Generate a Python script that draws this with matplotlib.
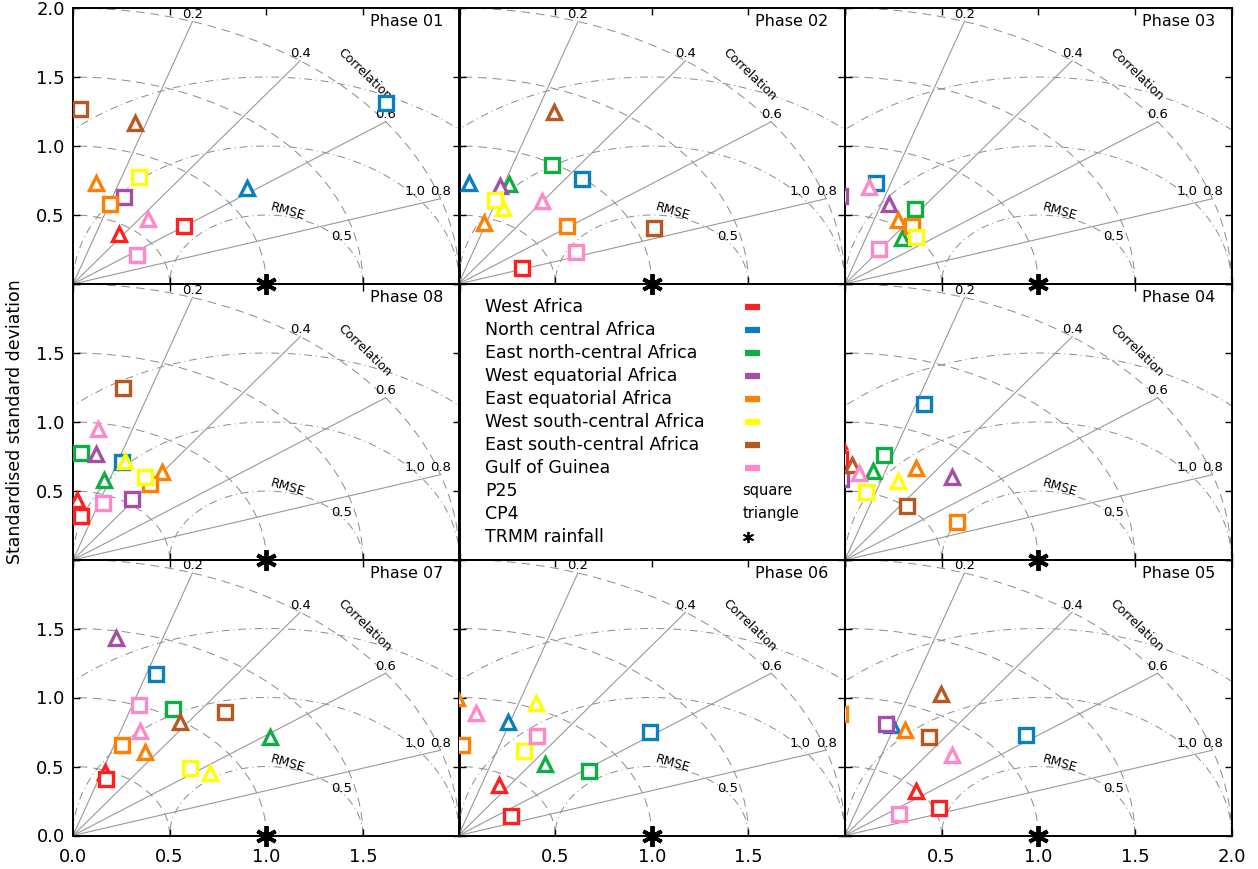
import numpy as np
import matplotlib
matplotlib.use("Agg")
import matplotlib.pyplot as plt

# Regions (one colour each), same order in every data row below
regions = ["West Africa", "North central Africa", "East north-central Africa",
           "West equatorial Africa", "East equatorial Africa",
           "West south-central Africa", "East south-central Africa",
           "Gulf of Guinea"]
region_colors = ["#ff1f1f", "#0a7fc0", "#10ad45", "#a64ea6",
                 "#ff7f00", "#ffff00", "#b8571f", "#ff88c8"]

phases = ["01", "02", "03", "04", "05", "06", "07", "08"]
nan = np.nan

# P25 (squares): x / y position on the diagram, one row per phase
p25_x = [
    [0.573, 1.618, nan, 0.263, 0.193, 0.342, 0.035, 0.332],
    [0.331, 0.641, 0.486, nan, 0.564, 0.190, 1.010, 0.607],
    [nan, 0.161, 0.363, -0.025, 0.349, 0.368, nan, 0.178],
    [-0.025, 0.411, 0.202, -0.022, 0.579, 0.107, 0.320, nan],
    [0.487, 0.938, nan, 0.211, -0.025, nan, 0.435, 0.282],
    [0.271, 0.990, 0.674, nan, 0.018, 0.337, nan, 0.406],
    [0.171, 0.432, 0.515, nan, 0.252, 0.604, 0.784, 0.342],
    [0.043, 0.254, 0.040, 0.304, 0.396, 0.375, 0.257, 0.154],
]
p25_y = [
    [0.423, 1.309, nan, 0.633, 0.580, 0.775, 1.268, 0.210],
    [0.118, 0.758, 0.860, nan, 0.423, 0.609, 0.403, 0.234],
    [nan, 0.734, 0.543, 0.638, 0.420, 0.343, nan, 0.251],
    [0.730, 1.133, 0.763, 0.590, 0.275, 0.493, 0.391, nan],
    [0.199, 0.725, nan, 0.809, 0.877, nan, 0.712, 0.156],
    [0.144, 0.749, 0.470, nan, 0.656, 0.615, nan, 0.720],
    [0.407, 1.169, 0.915, nan, 0.654, 0.487, 0.893, 0.947],
    [0.316, 0.710, 0.775, 0.444, 0.548, 0.601, 1.246, 0.415],
]

# CP4 (triangles)
cp4_x = [
    [0.240, 0.902, nan, nan, 0.117, nan, 0.321, 0.387],
    [nan, 0.052, 0.262, 0.216, 0.134, 0.228, 0.493, 0.434],
    [nan, nan, 0.294, 0.230, 0.273, nan, nan, 0.124],
    [-0.030, nan, 0.147, 0.553, 0.366, 0.276, 0.038, 0.074],
    [0.366, 0.245, nan, nan, 0.311, nan, 0.497, 0.553],
    [0.212, 0.254, 0.449, nan, -0.010, 0.402, nan, 0.089],
    [0.164, nan, 1.019, 0.223, 0.370, 0.708, 0.556, 0.349],
    [0.019, nan, 0.162, 0.119, 0.459, 0.269, nan, 0.131],
]
cp4_y = [
    [0.360, 0.693, nan, nan, 0.734, nan, 1.164, 0.469],
    [nan, 0.734, 0.722, 0.713, 0.440, 0.553, 1.249, 0.601],
    [nan, nan, 0.336, 0.577, 0.464, nan, nan, 0.705],
    [0.860, nan, 0.643, 0.601, 0.669, 0.575, 0.691, 0.633],
    [0.325, 0.804, nan, nan, 0.768, nan, 1.027, 0.586],
    [0.364, 0.821, 0.521, nan, 1.000, 0.957, nan, 0.889],
    [0.462, nan, 0.712, 1.429, 0.603, 0.455, 0.826, 0.755],
    [0.432, nan, 0.577, 0.771, 0.638, 0.715, nan, 0.952],
]

# TRMM reference point
trmm_x, trmm_y = 1.0, 0.0

std_levels = [0.5, 1.0, 1.5, 2.0]
rmse_levels = [0.5, 1.0, 1.5]
corr_levels = [0.2, 0.4, 0.6, 0.8]

# panel grid: phase shown in each cell, None = legend box
layout = [["01", "02", "03"],
          ["08", None, "04"],
          ["07", "06", "05"]]

W, H = 1258, 869
col_left = [73, 458.5, 845]
row_bottom = [284, 560, 835.5]
pw, ph = 386.5, 276

plt.rcParams["font.family"] = "DejaVu Sans"
fig = plt.figure(figsize=(W / 100, H / 100), dpi=100, facecolor="white")

grid_col = "#8a8a8a"
star_marker = (6, 2, 0)


def draw_grid(ax):
    th = np.linspace(0, np.pi / 2, 200)
    for r in std_levels:
        ax.plot(r * np.cos(th), r * np.sin(th), color=grid_col, lw=0.7,
                ls=(0, (9, 6)), zorder=1)
    ph_ = np.linspace(0, np.pi, 300)
    for r in rmse_levels:
        ax.plot(trmm_x + r * np.cos(ph_), r * np.sin(ph_), color=grid_col,
                lw=0.7, ls=(0, (8, 4, 1, 4)), zorder=1)
    for c in corr_levels:
        a = (1 - c) * np.pi / 2
        ax.plot([0, 2 * np.cos(a)], [0, 2 * np.sin(a)], color="#999999",
                lw=0.8, zorder=1)
        ax.text(2 * np.cos(a), 2 * np.sin(a) + 0.004, f"{c:.1f}",
                ha="center", va="bottom", fontsize=9.5)
    ang = np.deg2rad(41)
    for r in [0.5, 1.0]:
        ax.text(trmm_x + (r + 0.02) * np.cos(ang), (r + 0.02) * np.sin(ang),
                f"{r:.1f}", ha="center", va="center", fontsize=9.5)
    ax.text(1.11, 0.524, "RMSE", rotation=-16, ha="center", va="center",
            fontsize=9)
    ax.text(1.506, 1.522, "Correlation", rotation=-44, ha="center",
            va="center", fontsize=9)


for r in range(3):
    for c in range(3):
        ax = fig.add_axes([col_left[c] / W, 1 - row_bottom[r] / H, pw / W, ph / H])
        ax.patch.set_visible(False)
        ax.set_xlim(0, 2)
        ax.set_ylim(0, 2)
        for s in ax.spines.values():
            s.set_linewidth(1.4)
        phase = layout[r][c]

        if phase is None:
            # legend box
            ax.set_xticks([])
            ax.set_yticks([])
            y0, dy = 1.836, 23 / 138
            for i, (name, col) in enumerate(zip(regions, region_colors)):
                y = y0 - i * dy
                ax.text(0.137, y, name, ha="left", va="center", fontsize=12.5)
                ax.plot([1.483, 1.56], [y, y], color=col, lw=4.5,
                        solid_capstyle="butt")
            extra = [("P25", "square"), ("CP4", "triangle")]
            for j, (name, sym) in enumerate(extra):
                y = y0 - (8 + j) * dy
                ax.text(0.137, y, name, ha="left", va="center", fontsize=12.5)
                ax.text(1.468, y, sym, ha="left", va="center", fontsize=10.5)
            y = y0 - 10 * dy
            ax.text(0.137, y, "TRMM rainfall", ha="left", va="center",
                    fontsize=12.5)
            ax.plot(1.5, y, marker=star_marker, ms=8, mew=1.3, color="k")
            continue

        k = phases.index(phase)
        draw_grid(ax)
        for i, col in enumerate(region_colors):
            ax.plot(cp4_x[k][i], cp4_y[k][i], marker="^", ms=10, mew=2.4,
                    mec=col, mfc="white", ls="none", zorder=5)
            ax.plot(p25_x[k][i], p25_y[k][i], marker="s", ms=9.5, mew=2.4,
                    mec=col, mfc="white", ls="none", zorder=5)
        ax.plot(trmm_x, trmm_y, marker=star_marker, ms=15, mew=2.8, color="k",
                clip_on=False, zorder=20)
        ax.text(1.915, 1.90, f"Phase {phase}", ha="right", va="center",
                fontsize=11.5)

        ticks = [0, 0.5, 1.0, 1.5, 2.0]
        ax.set_xticks(ticks)
        ax.set_yticks(ticks)
        ax.tick_params(direction="in", length=5, width=1, top=True,
                       right=True, labelsize=13)
        ax.tick_params(axis="x", pad=9)
        ax.tick_params(axis="y", pad=6)

        if c == 0:
            ylab = ["", "0.5", "1.0", "1.5", "2.0" if r == 0 else ""]
            if r == 2:
                ylab[0] = "0.0"
            ax.set_yticklabels(ylab)
        else:
            ax.set_yticklabels([])
        if r == 2:
            xlab = ["", "0.5", "1.0", "1.5", ""]
            if c == 0:
                xlab[0] = "0.0"
            if c == 2:
                xlab[4] = "2.0"
            ax.set_xticklabels(xlab)
        else:
            ax.set_xticklabels([])

fig.text(15 / W, 1 - 422 / H, "Standardised standard deviation", rotation=90,
         ha="center", va="center", fontsize=12.5)

fig.savefig("out.png", dpi=100, facecolor="white")
